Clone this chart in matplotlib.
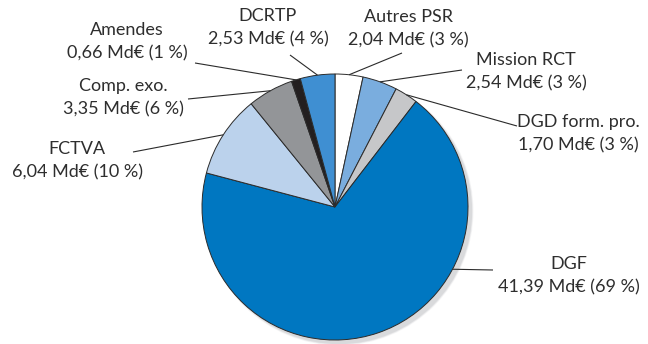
import numpy as np
import matplotlib
matplotlib.use("Agg")
import matplotlib.pyplot as plt
from matplotlib.patches import Circle

# Dotations, in billions of euros, clockwise from 12 o'clock
names = ["Autres PSR", "Mission RCT", "DGD form. pro.", "DGF",
         "FCTVA", "Comp. exo.", "Amendes", "DCRTP"]
amounts = [2.04, 2.54, 1.70, 41.39, 6.04, 3.35, 0.66, 2.53]
amount_labels = ["2,04", "2,54", "1,70", "41,39", "6,04", "3,35", "0,66", "2,53"]
share_labels = ["3 %", "3 %", "3 %", "69 %", "10 %", "6 %", "1 %", "4 %"]
colors = ["#FFFFFF", "#7AADDE", "#C6C7C9", "#0077C1",
          "#BBD2EC", "#939598", "#231F20", "#3F8FD2"]

W, H = 648, 344
fig = plt.figure(figsize=(W / 100, H / 100), dpi=100)
ax = fig.add_axes([0, 0, 1, 1])

cx, cy, r = 335, 137, 133

# soft drop shadow
for k, a in enumerate([0.25, 0.45, 1.0]):
    ax.add_patch(Circle((cx + 4, cy - 4), r + 1.5 - k * 0.7,
                        color="#D9DADC", alpha=a, zorder=0, lw=0))

wedges, _ = ax.pie(amounts, colors=colors, startangle=90, counterclock=False,
                   center=(cx, cy), radius=r, frame=True,
                   wedgeprops=dict(edgecolor="#2b2b2b", linewidth=0.7))
ax.set_xlim(0, W)
ax.set_ylim(0, H)
ax.set_aspect("equal")
ax.axis("off")

txt_color = "#2e2e2e"
font = dict(family=["Lato", "DejaVu Sans"], fontsize=13, color=txt_color)

# label centre (x, y of first line, image pixels), leader start, fraction along wedge
layout = {
    "Autres PSR":     ((408, 17), (402, 53), 0.5),
    "Mission RCT":    ((526, 60), (462, 70), 0.5),
    "DGD form. pro.": ((578, 122), (517, 126), 0.5),
    "DGF":            ((569, 264), (493, 270), 0.325),
    "FCTVA":          ((77, 149), (133, 152), 0.5),
    "Comp. exo.":     ((123, 86), (188, 99), 0.5),
    "Amendes":        ((127, 30), (195, 63), 0.5),
    "DCRTP":          ((268, 16), (290, 55), 0.5),
}
line_gap = 23

for w, name, amt, sh in zip(wedges, names, amount_labels, share_labels):
    (tx, ty), (lx, ly), frac = layout[name]
    t1, t2 = w.theta1, w.theta2
    ang = np.deg2rad(t2 - frac * (t2 - t1))
    px = cx + r * np.cos(ang)
    py = cy + r * np.sin(ang)
    ax.plot([lx, px], [H - ly, py], color="#2b2b2b", lw=0.8, zorder=3,
            solid_capstyle="butt")
    ax.text(tx, H - ty, name, ha="center", va="center", **font)
    ax.text(tx, H - ty - line_gap, f"{amt} Md€ ({sh})", ha="center", va="center", **font)

fig.savefig("out.png", dpi=100)
